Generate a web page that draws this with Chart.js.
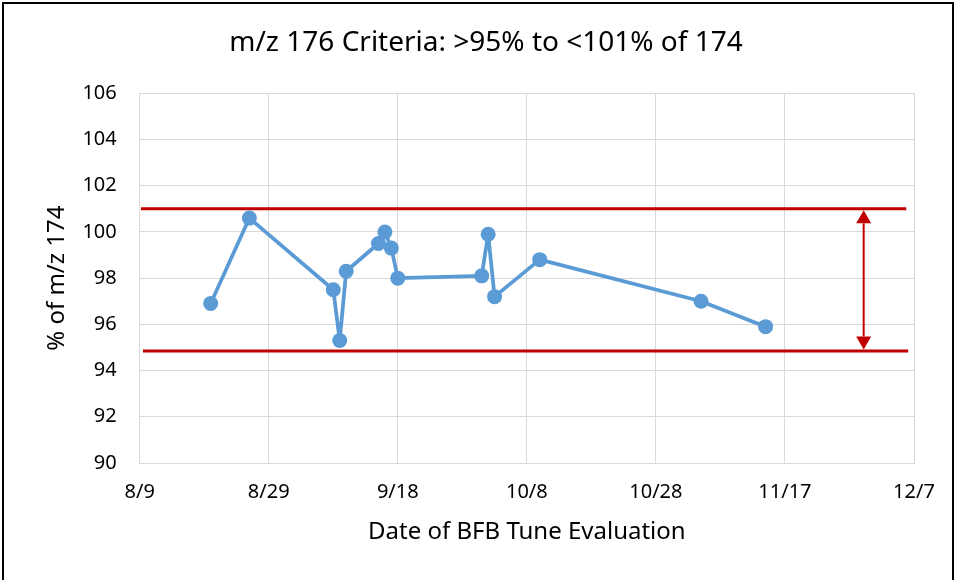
<!DOCTYPE html>
<html>
<head>
<meta charset="utf-8">
<script src="https://cdn.jsdelivr.net/npm/chart.js@4"></script>
<style>
  body { margin: 0; background: #fff; }
  #frame { position: absolute; left: 2px; top: 2px; width: 948px; height: 640px; border: 2px solid #000; }
  #chart { position: absolute; left: 0; top: 0; }
</style>
</head>
<body>
<div id="frame"></div>
<canvas id="chart" width="957" height="580"></canvas>
<script>
// data
const chartTitle = 'm/z 176 Criteria: >95% to <101% of 174';
const startDate = '8/9';
const tuneDates = ['8/20', '8/26', '9/8', '9/9', '9/10', '9/15', '9/16', '9/17', '9/18', '10/1', '10/2', '10/3', '10/10', '11/4', '11/14'];
const pctOf174 = [96.9, 100.6, 97.5, 95.3, 98.3, 99.5, 100.0, 99.3, 98.0, 98.1, 99.9, 97.2, 98.8, 97.0, 95.9];
const xTickLabels = ['8/9', '8/29', '9/18', '10/8', '10/28', '11/17', '12/7'];
const yTickValues = [90, 92, 94, 96, 98, 100, 102, 104, 106];
const upperLimit = 101;
const lowerLimit = 94.85;
const upperSpan = [0.2, 118.8];   // days after 8/9
const lowerSpan = [0.5, 119.1];
const arrowDay = 112.2;

const BLUE = '#5B9BD5';
const RED = '#C00000';
const GRID = '#D9D9D9';
const FONT = "'Noto Sans', sans-serif";

function dayOffset(md) {
  const [m, d] = md.split('/').map(Number);
  const [m0, d0] = startDate.split('/').map(Number);
  return (Date.UTC(2016, m - 1, d) - Date.UTC(2016, m0 - 1, d0)) / 86400000;
}

const tunePoints = tuneDates.map((d, i) => ({ x: dayOffset(d), y: pctOf174[i] }));

const titleAndArrow = {
  id: 'titleAndArrow',
  afterDatasetsDraw(chart) {
    const { ctx, scales: { x, y } } = chart;
    const ax = x.getPixelForValue(arrowDay);
    const top = y.getPixelForValue(upperLimit) + 1.5;
    const bot = y.getPixelForValue(lowerLimit) - 1.5;
    const headH = 13, headW = 7.5;
    ctx.save();
    ctx.strokeStyle = RED;
    ctx.fillStyle = RED;
    ctx.lineWidth = 2;
    ctx.beginPath();
    ctx.moveTo(ax, top + headH);
    ctx.lineTo(ax, bot - headH);
    ctx.stroke();
    ctx.beginPath();
    ctx.moveTo(ax, top);
    ctx.lineTo(ax - headW, top + headH);
    ctx.lineTo(ax + headW, top + headH);
    ctx.closePath();
    ctx.fill();
    ctx.beginPath();
    ctx.moveTo(ax, bot);
    ctx.lineTo(ax - headW, bot - headH);
    ctx.lineTo(ax + headW, bot - headH);
    ctx.closePath();
    ctx.fill();
    ctx.restore();
  },
  afterDraw(chart) {
    const ctx = chart.ctx;
    ctx.save();
    ctx.fillStyle = '#000';
    ctx.font = '28px ' + FONT;
    ctx.textAlign = 'center';
    ctx.textBaseline = 'middle';
    ctx.fillText(chartTitle, 486, 43);
    ctx.restore();
  }
};

new Chart(document.getElementById('chart').getContext('2d'), {
  type: 'line',
  data: {
    datasets: [
      {
        data: tunePoints,
        borderColor: BLUE,
        backgroundColor: BLUE,
        borderWidth: 3.75,
        borderJoinStyle: 'round',
        borderCapStyle: 'round',
        pointRadius: 7.5,
        pointBorderWidth: 0,
        pointBackgroundColor: BLUE,
        tension: 0,
        order: 1
      },
      {
        data: upperSpan.map(d => ({ x: d, y: upperLimit })),
        borderColor: RED,
        borderWidth: 3,
        pointRadius: 0,
        order: 2
      },
      {
        data: lowerSpan.map(d => ({ x: d, y: lowerLimit })),
        borderColor: RED,
        borderWidth: 3,
        pointRadius: 0,
        order: 2
      }
    ]
  },
  options: {
    responsive: false,
    animation: false,
    layout: { padding: { left: 0, right: 43, top: 93.3, bottom: 0 } },
    plugins: { legend: { display: false }, tooltip: { enabled: false }, title: { display: false } },
    scales: {
      x: {
        type: 'linear',
        min: 0,
        max: 120,
        afterBuildTicks(scale) {
          scale.ticks = xTickLabels.map((_, i) => ({ value: i * 20 }));
        },
        afterFit(scale) { scale.height = 117; },
        grid: { color: GRID, lineWidth: 1, drawTicks: false },
        border: { color: GRID, width: 1 },
        ticks: {
          padding: 17,
          color: '#000',
          font: { family: FONT, size: 20 },
          maxRotation: 0,
          callback: (v) => xTickLabels[Math.round(v / 20)]
        },
        title: {
          display: true,
          text: 'Date of BFB Tune Evaluation',
          color: '#000',
          font: { family: FONT, size: 24 },
          padding: { top: 0, bottom: 33.6 }
        }
      },
      y: {
        min: 90,
        max: 106,
        afterBuildTicks(scale) {
          scale.ticks = yTickValues.map(v => ({ value: v }));
        },
        afterFit(scale) { scale.width = 139.7; },
        grid: { color: GRID, lineWidth: 1, drawTicks: false },
        border: { color: GRID, width: 1 },
        ticks: {
          padding: 23,
          color: '#000',
          font: { family: FONT, size: 20 }
        },
        title: {
          display: true,
          text: '% of m/z 174',
          color: '#000',
          font: { family: FONT, size: 24 },
          padding: { top: 42.6, bottom: 0 }
        }
      }
    }
  },
  plugins: [titleAndArrow]
});
</script>
</body>
</html>
